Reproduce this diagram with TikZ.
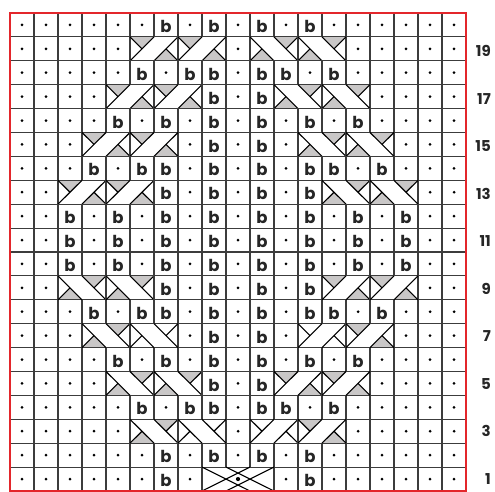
\documentclass[tikz,border=0pt]{standalone}
\usepackage{fontspec}
\newfontfamily\bfont{Poppins}
\definecolor{gridc}{HTML}{3C3C3C}
\definecolor{greytri}{HTML}{C9C7C7}
\definecolor{chartred}{HTML}{E3262B}
\newcommand\dotcell[2]{%
  \draw[gridline] ({10+24*(#1-1)},{1+23.9*(#2-1)}) rectangle ++(24,23.9);
  \fill ({10+24*(#1-1)+12},{1+23.9*(#2-1)+11.95}) circle[radius=1.5];}
\newcommand\bcell[2]{%
  \draw[gridline] ({10+24*(#1-1)},{1+23.9*(#2-1)}) rectangle ++(24,23.9);
  \node[btext] (b#1-#2) at ({10+24*(#1-1)+12},{1+23.9*(#2-1)+4.3}) {b};}
\newcommand\cabR[3]{%
  \begin{scope}[shift={({10+24*(#1-1)},{1+23.9*(#2-1)})}]
    \fill[#3] (0,23.9) -- (24,23.9) -- (12,11.95) -- cycle;
    \fill[#3] (24,0) -- (48,0) -- (36,11.95) -- cycle;
    \draw[gridline] (0,0) rectangle (48,23.9);
    \draw[cabline] (0,0) -- (24,23.9) (24,0) -- (48,23.9) (0,23.9) -- (12,11.95) (36,11.95) -- (48,0);
  \end{scope}}
\newcommand\cabL[3]{%
  \begin{scope}[shift={({10+24*(#1-1)},{1+23.9*(#2-1)})}]
    \fill[#3] (0,0) -- (24,0) -- (12,11.95) -- cycle;
    \fill[#3] (24,23.9) -- (48,23.9) -- (36,11.95) -- cycle;
    \draw[gridline] (0,0) rectangle (48,23.9);
    \draw[cabline] (0,23.9) -- (24,0) (24,23.9) -- (48,0) (0,0) -- (12,11.95) (36,11.95) -- (48,23.9);
  \end{scope}}
\newcommand\cabX[2]{%
  \begin{scope}[shift={({10+24*(#1-1)},{1+23.9*(#2-1)})}]
    \draw[gridline] (0,0) rectangle (72,23.9);
    \draw[cabline] (0,0) -- (48,23.9) (0,23.9) -- (48,0) (24,0) -- (72,23.9) (24,23.9) -- (72,0);
    \fill (36,11.95) circle[radius=2.1];
  \end{scope}}
\begin{document}
\begin{tikzpicture}[x=1pt,y=1pt,
  gridline/.style={draw=gridc, line width=1.1pt},
  cabline/.style={draw=black, line width=1.1pt},
  btext/.style={font=\bfont\bfseries\fontsize{16.5}{16.5}\selectfont, inner sep=0pt, anchor=base, text=black!85},
  rowlabel/.style={font=\bfont\bfseries\fontsize{15}{15}\selectfont, inner sep=0pt, anchor=east, text=black!85}]
\useasboundingbox (0,0) rectangle (495,492);
\fill[white] (0,0) rectangle (495,492);
% rows 20 and 2
\foreach \r in {20,2} {
  \foreach \c in {1,2,3,4,5,6,8,10,12,14,15,16,17,18,19} {\dotcell{\c}{\r}}
  \foreach \c in {7,9,11,13} {\bcell{\c}{\r}}
}
% row 19
\foreach \c in {1,2,3,4,5,10,15,16,17,18,19} {\dotcell{\c}{19}}
\foreach \c in {6,8} {\cabR{\c}{19}{greytri}}
\foreach \c in {11,13} {\cabL{\c}{19}{greytri}}
% rows 18 and 4
\foreach \r in {18,4} {
  \foreach \c in {1,2,3,4,5,7,10,13,15,16,17,18,19} {\dotcell{\c}{\r}}
  \foreach \c in {6,8,9,11,12,14} {\bcell{\c}{\r}}
}
% row 17
\foreach \c in {1,2,3,4,10,16,17,18,19} {\dotcell{\c}{17}}
\foreach \c in {5,7} {\cabR{\c}{17}{greytri}}
\foreach \c in {9,11} {\bcell{\c}{17}}
\foreach \c in {12,14} {\cabL{\c}{17}{greytri}}
% rows 16 and 6
\foreach \r in {16,6} {
  \foreach \c in {1,2,3,4,6,8,10,12,14,16,17,18,19} {\dotcell{\c}{\r}}
  \foreach \c in {5,7,9,11,13,15} {\bcell{\c}{\r}}
}
% row 15
\foreach \c in {1,2,3,8,10,12,17,18,19} {\dotcell{\c}{15}}
\foreach \c in {4,6} {\cabR{\c}{15}{greytri}}
\foreach \c in {9,11} {\bcell{\c}{15}}
\foreach \c in {13,15} {\cabL{\c}{15}{greytri}}
% rows 14 and 8
\foreach \r in {14,8} {
  \foreach \c in {1,2,3,5,8,10,12,15,17,18,19} {\dotcell{\c}{\r}}
  \foreach \c in {4,6,7,9,11,13,14,16} {\bcell{\c}{\r}}
}
% row 13
\foreach \c in {1,2,8,10,12,18,19} {\dotcell{\c}{13}}
\foreach \c in {3,5} {\cabR{\c}{13}{greytri}}
\foreach \c in {7,9,11,13} {\bcell{\c}{13}}
\foreach \c in {14,16} {\cabL{\c}{13}{greytri}}
% rows 12, 11, 10
\foreach \r in {12,11,10} {
  \foreach \c in {1,2,4,6,8,10,12,14,16,18,19} {\dotcell{\c}{\r}}
  \foreach \c in {3,5,7,9,11,13,15,17} {\bcell{\c}{\r}}
}
% row 9
\foreach \c in {1,2,8,10,12,18,19} {\dotcell{\c}{9}}
\foreach \c in {3,5} {\cabL{\c}{9}{greytri}}
\foreach \c in {7,9,11,13} {\bcell{\c}{9}}
\foreach \c in {14,16} {\cabR{\c}{9}{greytri}}
% row 7
\foreach \c in {1,2,3,8,10,12,17,18,19} {\dotcell{\c}{7}}
\cabL{4}{7}{greytri}
\cabL{6}{7}{white}
\foreach \c in {9,11} {\bcell{\c}{7}}
\cabR{13}{7}{white}
\cabR{15}{7}{greytri}
% row 5
\foreach \c in {1,2,3,4,10,16,17,18,19} {\dotcell{\c}{5}}
\foreach \c in {5,7} {\cabL{\c}{5}{greytri}}
\foreach \c in {9,11} {\bcell{\c}{5}}
\foreach \c in {12,14} {\cabR{\c}{5}{greytri}}
% row 3
\foreach \c in {1,2,3,4,5,10,15,16,17,18,19} {\dotcell{\c}{3}}
\cabL{6}{3}{greytri}
\cabL{8}{3}{white}
\cabR{11}{3}{white}
\cabR{13}{3}{greytri}
% row 1
\foreach \c in {1,2,3,4,5,6,8,12,14,15,16,17,18,19} {\dotcell{\c}{1}}
\foreach \c in {7,13} {\bcell{\c}{1}}
\cabX{9}{1}
% red frame
\draw[chartred, line width=2.3pt] (9.8,0.6) rectangle (466.2,479.2);
% row numbers
\foreach \r in {1,3,...,19} {
  \node[rowlabel] (lab\r) at (491,{492-(51.2+(19-\r)*23.75)}) {\r};
}
\end{tikzpicture}
\end{document}
